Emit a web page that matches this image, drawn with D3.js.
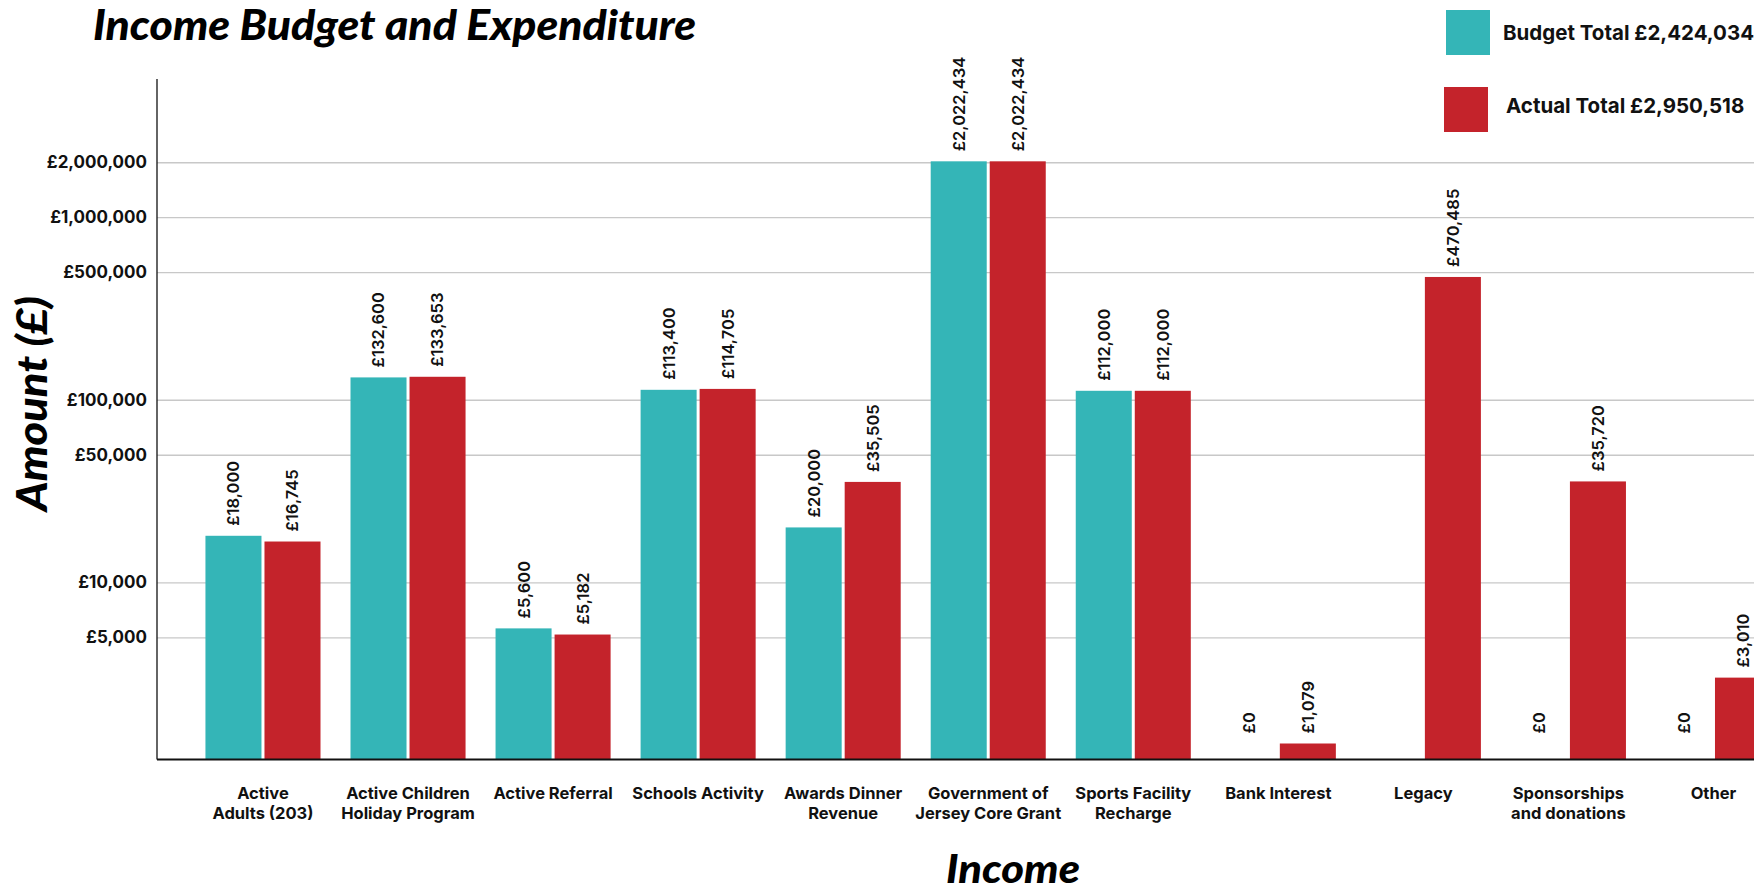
<!DOCTYPE html>
<html>
<head>
<meta charset="utf-8">
<script src="https://cdn.jsdelivr.net/npm/d3@7"></script>
<style>
html,body{margin:0;padding:0;background:#fff;overflow:hidden}
</style>
</head>
<body>
<svg id="chart" width="1754" height="893"></svg>
<script>
// ---------------- DATA ----------------
const categories = [
  "Active Adults (203)", "Active Children Holiday Program", "Active Referral",
  "Schools Activity", "Awards Dinner Revenue", "Government of Jersey Core Grant",
  "Sports Facility Recharge", "Bank Interest", "Legacy",
  "Sponsorships and donations", "Other"
];
const categoryLines = [
  ["Active", "Adults (203)"], ["Active Children", "Holiday Program"], ["Active Referral"],
  ["Schools Activity"], ["Awards Dinner", "Revenue"], ["Government of", "Jersey Core Grant"],
  ["Sports Facility", "Recharge"], ["Bank Interest"], ["Legacy"],
  ["Sponsorships", "and donations"], ["Other"]
];
const budget = [18000, 132600, 5600, 113400, 20000, 2022434, 112000, 0, null, 0, 0];
const actual = [16745, 133653, 5182, 114705, 35505, 2022434, 112000, 1079, 470485, 35720, 3010];
const seriesKeys = ["budget", "actual"];
const legendLabels = ["Budget Total £2,424,034", "Actual Total £2,950,518"];
const yTicks = [5000, 10000, 50000, 100000, 500000, 1000000, 2000000];
const yDomain = [1072, 5710000];

const title = "Income Budget and Expenditure";
const yTitle = "Amount (£)";
const xTitle = "Income";

// ---------------- STYLE / LAYOUT ----------------
const W = 1754, H = 893;
const colors = { budget: "#34b5b7", actual: "#c4232b" };
const axisX = 157, baseY = 759.5, topY = 79;
const minBarPx = 16;
const labelFont = "Inter, 'Open Sans', sans-serif";
const titleFont = "Lato, 'Open Sans', sans-serif";

const svg = d3.select("#chart");
svg.append("rect").attr("width", W).attr("height", H).attr("fill", "#fff");

const rows = categories.map((c, i) => ({ cat: c, lines: categoryLines[i], budget: budget[i], actual: actual[i] }));

const y = d3.scaleLog().domain(yDomain).range([baseY, topY]).clamp(true);

const step = 145.05;
const x0 = d3.scaleBand().domain(categories)
  .range([190.45, 190.45 + categories.length * step])
  .paddingInner(30 / step).paddingOuter(15 / step);
const x1 = d3.scaleBand().domain(seriesKeys).range([0, x0.bandwidth()]).paddingInner(3 / 59);

const fmt = v => "£" + d3.format(",")(v);

// Y axis with grid lines
const gy = svg.append("g").attr("transform", `translate(${axisX},0)`)
  .call(d3.axisLeft(y).tickValues(yTicks).tickFormat(fmt).tickSize(-(W - axisX)).tickPadding(10));
gy.select(".domain").remove();
gy.selectAll(".tick line").attr("stroke", "#c8c8c8").attr("stroke-width", 1.4);
gy.selectAll(".tick text")
  .attr("font-family", labelFont).attr("font-weight", 700).attr("font-size", 17)
  .attr("fill", "#111");

// vertical axis line
svg.append("line")
  .attr("x1", axisX).attr("x2", axisX)
  .attr("y1", y.range()[1]).attr("y2", y.range()[0])
  .attr("stroke", "#111").attr("stroke-width", 1.3);

// bars
const groups = svg.append("g").selectAll("g.grp").data(rows).join("g")
  .attr("class", "grp")
  .attr("transform", d => `translate(${x0(d.cat)},0)`);

const barData = d => seriesKeys.map(k => ({ key: k, value: d[k] }));

const topOf = v => {
  const h = v > 0 ? Math.max(baseY - y(v), minBarPx) : minBarPx;
  return baseY - h;
};

groups.selectAll("rect").data(d => barData(d).filter(b => b.value > 0)).join("rect")
  .attr("x", b => x1(b.key))
  .attr("width", x1.bandwidth())
  .attr("y", b => topOf(b.value))
  .attr("height", b => baseY - topOf(b.value))
  .attr("fill", b => colors[b.key]);

// value labels
groups.selectAll("text.val").data(d => barData(d).filter(b => b.value !== null)).join("text")
  .attr("class", "val")
  .attr("transform", b => `translate(${x1(b.key) + x1.bandwidth() / 2},${topOf(b.value) - 10}) rotate(-90)`)
  .attr("dy", "0.36em")
  .attr("text-anchor", "start")
  .attr("font-family", labelFont).attr("font-weight", 600).attr("font-size", 16.5)
  .attr("fill", "#111")
  .text(b => fmt(b.value));

// baseline
svg.append("line")
  .attr("x1", axisX).attr("x2", W)
  .attr("y1", baseY).attr("y2", baseY)
  .attr("stroke", "#111").attr("stroke-width", 2);

// category labels
const catText = svg.append("g").selectAll("text").data(rows).join("text")
  .attr("text-anchor", "middle")
  .attr("font-family", labelFont).attr("font-weight", 700).attr("font-size", 16.5)
  .attr("fill", "#111");
catText.selectAll("tspan").data(d => d.lines.map(l => ({ l, cat: d.cat }))).join("tspan")
  .attr("x", t => x0(t.cat) + x0.bandwidth() / 2)
  .attr("y", (t, i) => 799 + i * 20)
  .text(t => t.l);

// titles
svg.append("text")
  .attr("x", 93).attr("y", 40)
  .attr("font-family", titleFont).attr("font-weight", 900).attr("font-style", "italic")
  .attr("font-size", 42).attr("fill", "#000")
  .attr("textLength", 603).attr("lengthAdjust", "spacingAndGlyphs")
  .text(title);

svg.append("text")
  .attr("transform", `translate(47,${(296 + 511) / 2}) rotate(-90)`)
  .attr("text-anchor", "middle")
  .attr("font-family", titleFont).attr("font-weight", 900).attr("font-style", "italic")
  .attr("font-size", 42).attr("fill", "#000")
  .attr("textLength", 215).attr("lengthAdjust", "spacingAndGlyphs")
  .text(yTitle);

svg.append("text")
  .attr("x", 1013).attr("y", 883)
  .attr("text-anchor", "middle")
  .attr("font-family", titleFont).attr("font-weight", 900).attr("font-style", "italic")
  .attr("font-size", 40).attr("fill", "#000")
  .attr("textLength", 134).attr("lengthAdjust", "spacingAndGlyphs")
  .text(xTitle);

// legend
const legendPos = [{ rx: 1446, ry: 10, tx: 1503, ty: 33 }, { rx: 1444, ry: 87, tx: 1506, ty: 106 }];
const lg = svg.append("g").selectAll("g").data(seriesKeys).join("g");
lg.append("rect")
  .attr("x", (k, i) => legendPos[i].rx).attr("y", (k, i) => legendPos[i].ry)
  .attr("width", 44).attr("height", 45)
  .attr("fill", k => colors[k]);
lg.append("text")
  .attr("x", (k, i) => legendPos[i].tx).attr("y", (k, i) => legendPos[i].ty)
  .attr("dy", "0.36em")
  .attr("font-family", labelFont).attr("font-weight", 700).attr("font-size", 20.5)
  .attr("fill", "#111")
  .text((k, i) => legendLabels[i]);
</script>
</body>
</html>
